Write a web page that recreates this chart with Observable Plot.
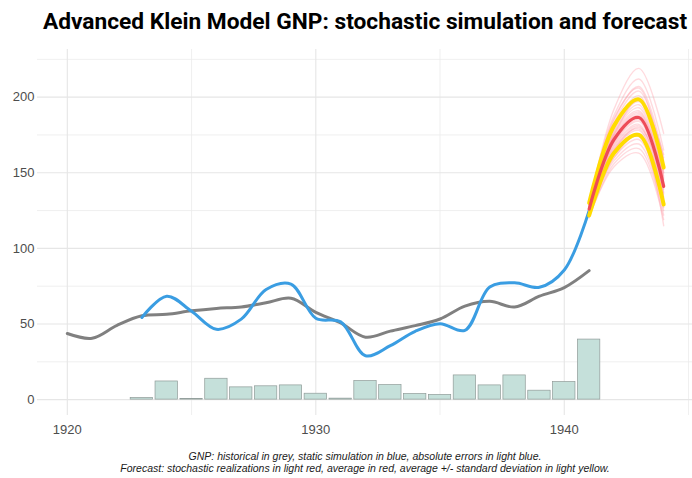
<!DOCTYPE html>
<html><head><meta charset="utf-8">
<script src="https://cdn.jsdelivr.net/npm/d3@7"></script>
<script src="https://cdn.jsdelivr.net/npm/@observablehq/plot@0.6"></script>
<style>
html,body{margin:0;padding:0;background:#fff}
#wrap{position:relative;width:692px;height:478px;overflow:hidden}
#title{position:absolute;left:37px;width:656px;top:8px;line-height:26px;text-align:center;font:700 22.7px Roboto;color:#000;white-space:nowrap}
#chart{position:absolute;left:0;top:40px}
#caption{position:absolute;left:37px;width:656px;top:450px;line-height:14px;text-align:center;font:italic 10.5px "Liberation Sans";color:#1a1a1a;white-space:nowrap}
</style></head>
<body>
<div id="wrap">
<div id="title"><span id="tt">Advanced Klein Model GNP: stochastic simulation and forecast</span></div>
<div id="chart"></div>
<div id="caption">GNP: historical in grey, static simulation in blue, absolute errors in light blue.<br>Forecast: stochastic realizations in light red, average in red, average +/- standard deviation in light yellow.</div>
</div>
<script>
// Historical GNP 1920-1941
const histYears = d3.range(1920, 1942);
const gnpHist = [43.7,40.6,49.1,55.4,56.4,58.7,60.3,61.3,64.0,67.0,57.7,50.7,41.3,45.3,48.9,53.3,61.8,65.0,61.2,68.4,74.1,85.3];
// Static simulation 1923-1941
const simYears = d3.range(1923, 1942);
const gnpSim = [54.3,68.4,58.4,46.5,53.2,72.8,76.4,53.8,51.4,29.0,35.7,45.2,50.2,45.8,74.4,77.2,74.3,85.7,125.0];
// Absolute errors 1923-1941
const absErr = [1.1,12.0,0.5,13.8,8.1,8.8,9.4,3.9,0.65,12.3,9.6,3.7,3.1,16.0,9.4,16.0,5.9,11.6,39.7];
// Forecast 1941-1944
const fcYears = [1941,1942,1943,1944];
const fcMean  = [126,172,186.5,141];
const fcUpper = [130,181,198.5,153.5];
const fcLower = [121.7,163,175,129];
const realizations = [
  [128,192,219,176],[130,188,212,165],[127,185,207,160],[129,183,204,158],
  [126,181,201,157],[128,180,199,154],[125,178,197,152],[127,177,195,150],
  [126,176,193,148],[124,175,191,147],[127,174,190,146],[125,173,189,144],
  [126,172,188,143],[124,171,186,141],[126,170,185,140],[123,169,184,139],
  [125,168,182,137],[124,167,181,136],[122,166,179,134],[125,165,178,133],
  [123,163,176,131],[121,162,174,129],[124,160,172,127],[122,158,169,125],
  [120,156,166,122],[121,154,163,119],[123,186,206,150],[126,165,180,145],
  [128,175,198,162],[122,160,175,115]
];
const xMajor = [1920,1930,1940];
const xMinor = [1925,1935,1945];
const yMajor = [0,50,100,150,200];
const yMinor = [25,75,125,175,225];

const hist = histYears.map((year,i)=>({year, v:gnpHist[i]}));
const sim = simYears.map((year,i)=>({year, v:gnpSim[i], err:absErr[i]}));
const real = realizations.flatMap((r,k)=>r.map((v,i)=>({k, year:fcYears[i], v})));
const fc = fcYears.map((year,i)=>({year, m:fcMean[i], hi:fcUpper[i], lo:fcLower[i]}));

const curve = "catmull-rom";
const plot = Plot.plot({
  width: 692, height: 400,
  marginTop: 9, marginBottom: 25, marginLeft: 37, marginRight: 0,
  style: {background: "transparent", fontFamily: "Liberation Sans"},
  x: {domain: [1918.8, 1945.2], range: [37, 693]},
  y: {domain: [-10.5, 231.5]},
  marks: [
    Plot.ruleX(xMinor, {stroke: "#ebebeb", strokeWidth: 0.8}),
    Plot.ruleY(yMinor, {stroke: "#ebebeb", strokeWidth: 0.8}),
    Plot.ruleX(xMajor, {stroke: "#e6e6e6", strokeWidth: 1.1}),
    Plot.ruleY(yMajor, {stroke: "#e6e6e6", strokeWidth: 1.1}),
    Plot.axisX({ticks: xMajor, tickSize: 0, tickPadding: 9, tickFormat: d => String(d), fontSize: 13, fill: "#4d4d4d", label: null}),
    Plot.axisY({ticks: yMajor, tickSize: 0, tickPadding: 3, fontSize: 13, fill: "#4d4d4d", label: null}),
    Plot.rectY(sim, {x1: d => d.year - 0.45, x2: d => d.year + 0.45, y1: 0, y2: "err", fill: "#c5e0da", stroke: "#8f9b98", strokeWidth: 0.7}),
    Plot.line(hist, {x: "year", y: "v", stroke: "#808080", strokeWidth: 3, curve}),
    Plot.line(sim, {x: "year", y: "v", stroke: "#3a9de2", strokeWidth: 3, curve}),
    Plot.line(real, {x: "year", y: "v", z: "k", stroke: "#ff8c99", strokeOpacity: 0.32, strokeWidth: 1.4, curve}),
    Plot.line(fc, {x: "year", y: "hi", stroke: "#ffdc00", strokeWidth: 4, curve}),
    Plot.line(fc, {x: "year", y: "lo", stroke: "#ffdc00", strokeWidth: 4, curve}),
    Plot.line(fc, {x: "year", y: "m", stroke: "#ee4b57", strokeWidth: 3.2, curve})
  ]
});
document.getElementById("chart").appendChild(plot);
// fit title width to reference (644px)
const tt = document.getElementById("tt");
const w = tt.getBoundingClientRect().width;
if (w > 0) {
  const fs = 22.7 * 644 / w;
  document.getElementById("title").style.fontSize = fs.toFixed(2) + "px";
}
</script>
</body></html>
